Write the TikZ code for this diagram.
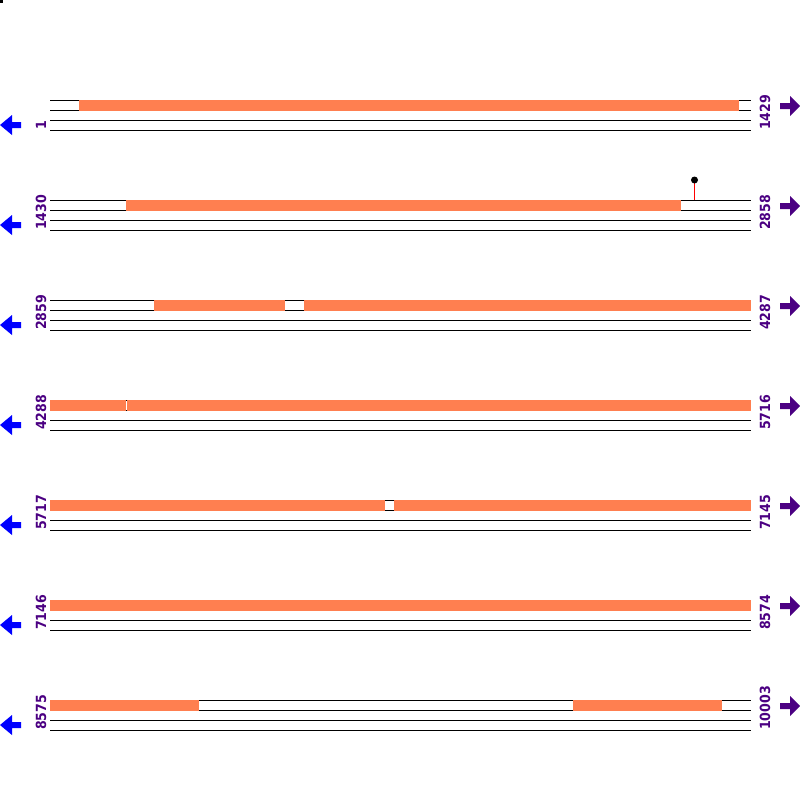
\documentclass[tikz,border=0pt]{standalone}
\usepackage{fontspec}
\setmainfont{DejaVu Sans}
\newfontfamily\labfont{DejaVu Sans Condensed}
\definecolor{coral}{HTML}{FF7F50}
\definecolor{ind}{HTML}{4B0082}
\begin{document}
\begin{tikzpicture}[x=1pt,y=1pt,
  seqline/.style={black, line width=1pt},
  feat/.style={fill=coral, draw=none},
  lab/.style={rotate=90, anchor=west, inner sep=0pt, text=ind, font=\labfont\fontsize{14}{14}\selectfont\bfseries},
  larrow/.style={fill=blue, draw=none},
  rarrow/.style={fill=ind, draw=none}]
\useasboundingbox (0,0) rectangle (800,-800);
\fill[black] (0,0) rectangle (3,-3);
\foreach \r/\a/\b/\bars in {0/1/1429/{79/739}, 1/1430/2858/{126/681}, 2/2859/4287/{154/285,304/751}, 3/4288/5716/{50/126,127/751}, 4/5717/7145/{50/385,394/751}, 5/7146/8574/{50/751}, 6/8575/10003/{50/199,573/722}} {
  \pgfmathsetmacro\Y{-100-100*\r}
  \foreach \d in {0,10,20,30} \draw[seqline] (50,\Y-\d-0.5) -- (751,\Y-\d-0.5);
  \foreach \s/\e in \bars \fill[feat] (\s,\Y) rectangle (\e,\Y-11);
  \node[lab] (l\r) at (41,\Y-30) {\a};
  \node[lab] (r\r) at (765,\Y-30) {\b};
  \fill[larrow] (0,\Y-25) -- (12,\Y-15) -- (12,\Y-22) -- (21,\Y-22) -- (21,\Y-28) -- (12,\Y-28) -- (12,\Y-35) -- cycle;
  \fill[rarrow] (800,\Y-6) -- (790,\Y+4) -- (790,\Y-3) -- (780,\Y-3) -- (780,\Y-9) -- (790,\Y-9) -- (790,\Y-16) -- cycle;
}
\coordinate (pin) at (694.5,-200);
\coordinate (pinhead) at (694.5,-180);
\draw[red, line width=1pt] (pin) -- (pinhead);
\fill[black] (pinhead) circle (3.5);
\end{tikzpicture}
\end{document}
